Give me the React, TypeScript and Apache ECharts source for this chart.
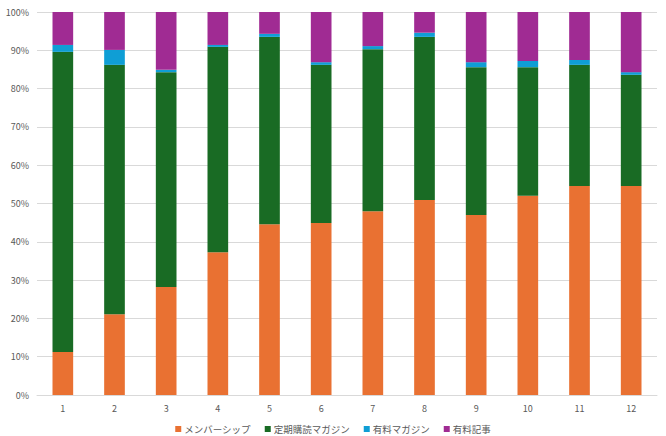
import React, { useEffect, useRef } from 'react';
import * as echarts from 'echarts';

const months = ['1', '2', '3', '4', '5', '6', '7', '8', '9', '10', '11', '12'];

const membership = [11.2, 21.1, 28.2, 37.3, 44.6, 44.9, 48.0, 50.9, 47.0, 52.0, 54.6, 54.6];
const subscriptionMagazine = [78.4, 65.1, 56.1, 53.6, 48.9, 41.3, 42.3, 42.6, 38.6, 33.6, 31.6, 29.0];
const paidMagazine = [1.8, 3.9, 0.6, 0.5, 0.8, 0.7, 0.8, 1.1, 1.3, 1.6, 1.3, 0.7];
const paidArticle = [8.6, 9.9, 15.1, 8.6, 5.7, 13.1, 8.9, 5.4, 13.1, 12.8, 12.5, 15.7];

const seriesNames = ['メンバーシップ', '定期購読マガジン', '有料マガジン', '有料記事'];
const colors = ['#E97132', '#196B24', '#0F9ED5', '#A02B93'];

const fontFamily = '"Noto Sans CJK JP", "Noto Sans", sans-serif';

const App: React.FC = () => {
  const chartRef = useRef<HTMLDivElement>(null);

  useEffect(() => {
    if (!chartRef.current) return;
    const chart = echarts.init(chartRef.current, null, { renderer: 'svg' });

    const data = [membership, subscriptionMagazine, paidMagazine, paidArticle];

    chart.setOption({
      animation: false,
      color: colors,
      textStyle: { fontFamily },
      grid: { left: 37, right: 9, top: 12, bottom: 41 },
      legend: {
        top: 422,
        left: 'center',
        itemWidth: 6,
        itemHeight: 6,
        itemGap: 14,
        icon: 'rect',
        padding: 0,
        textStyle: { color: '#595959', fontSize: 9.5, fontFamily, lineHeight: 14, padding: [0, 0, 0, -2] },
        data: seriesNames,
      },
      xAxis: {
        type: 'category',
        data: months,
        axisLine: { lineStyle: { color: '#d9d9d9' } },
        axisTick: { show: false },
        axisLabel: { color: '#595959', fontSize: 9, margin: 9 },
      },
      yAxis: {
        type: 'value',
        min: 0,
        max: 100,
        interval: 10,
        axisLine: { show: false },
        axisTick: { show: false },
        axisLabel: { color: '#595959', fontSize: 9, formatter: '{value}%', margin: 8 },
        splitLine: { lineStyle: { color: '#d9d9d9' } },
      },
      series: seriesNames.map((name, i) => ({
        name,
        type: 'bar',
        stack: 'total',
        barWidth: '40%',
        data: data[i],
      })),
    });

    return () => {
      chart.dispose();
    };
  }, []);

  return (
    <div
      ref={chartRef}
      style={{ position: 'absolute', left: 0, top: 0, width: 666, height: 436, background: '#fff' }}
    />
  );
};

export default App;
